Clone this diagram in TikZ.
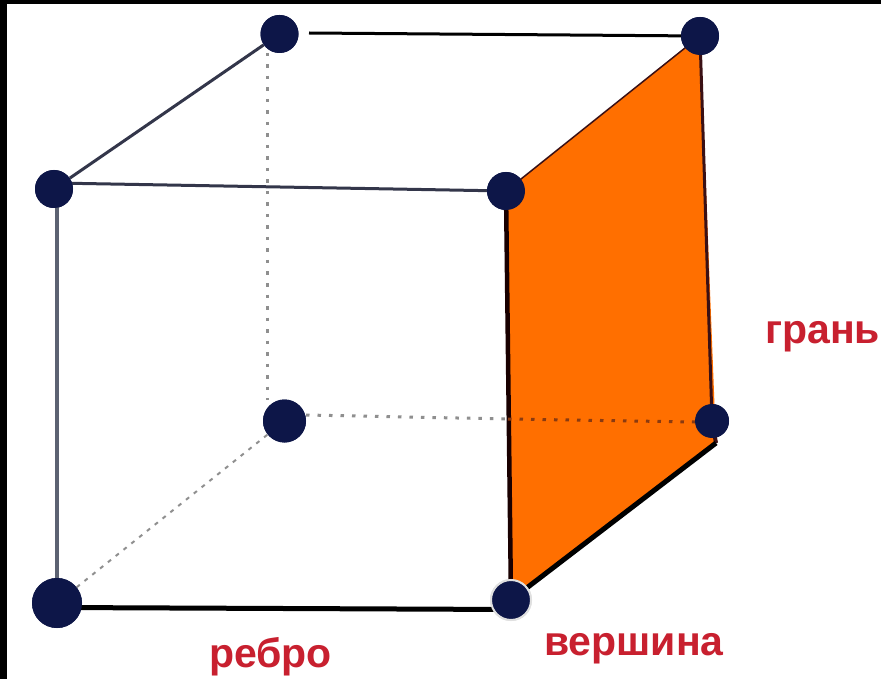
\documentclass[tikz,border=0pt]{standalone}
\usepackage{fontspec}
\setmainfont{Liberation Sans}
\definecolor{vertexc}{HTML}{0D1648}
\definecolor{facec}{HTML}{FF6F00}
\definecolor{labelc}{HTML}{C8202F}
\definecolor{edgeg}{HTML}{33364A}
\definecolor{edgel}{HTML}{5C6272}
\definecolor{dashg}{HTML}{8F8F8F}
\definecolor{dasho}{HTML}{8A3A10}
\definecolor{faceb}{HTML}{3A1015}
\tikzset{x=1pt,y=-1pt,
  vertex/.style={circle,fill=vertexc,draw=none,inner sep=0pt,minimum size=#1},
  vertex/.default=40pt,
  hidden/.style={line width=3pt,draw=dashg,dash pattern=on 3.5pt off 8pt},
  hiddenthin/.style={line width=2pt,draw=dashg,dash pattern=on 4pt off 6pt},
  lbl/.style={font=\bfseries\fontsize{41pt}{44pt}\selectfont,text=labelc,inner sep=0pt,anchor=base west}
}
\begin{document}
\begin{tikzpicture}
\useasboundingbox (0,0) rectangle (881,679);
\fill[white] (0,0) rectangle (881,679);
\fill[black] (0,0) rectangle (881,4);
\fill[black] (0,0) rectangle (7,679);
% vertex nodes
\node[vertex=50pt] (a) at (57,603) {};
\node[vertex=40pt,draw=black!12,line width=2pt] (b) at (511,600) {};
\node[vertex=34pt] (c) at (712,421) {};
\node[vertex=43pt] (d) at (284.5,421) {};
\node[vertex=38pt] (e) at (54,189) {};
\node[vertex=38pt] (f) at (506,191) {};
\node[vertex=38pt] (g) at (700,36) {};
\node[vertex=38pt] (h) at (279.5,34) {};
\coordinate (fbl) at (716,443);
\coordinate (hd1) at (267,53);
\coordinate (hd2) at (267,400);
\coordinate (dc1) at (306,415);
\coordinate (dc2) at (508,419);
\coordinate (dc3) at (695,422);
% face
\fill[facec] (f.center) -- (g.center) -- (fbl) -- (b.center) -- cycle;
\draw[line width=1.5pt,faceb] (f.center) -- (g.center);
\draw[line width=3pt,faceb] (g.center) -- (c.center);
\draw[line width=4pt,faceb] (c.center) -- (fbl);
\draw[line width=4.5pt,black!90!red] (f.center) -- (b.center);
\draw[line width=5pt,black] (fbl) -- (b.center);
% hidden edges
\draw[hidden] (hd1) -- (hd2);
\draw[hiddenthin] (a) -- (d);
\draw[hidden] (dc1) -- (dc2);
\draw[hidden,draw=dasho] (dc2) -- (dc3);
% visible edges
\draw[line width=3.5pt,edgel] (a) -- ([xshift=3pt]e.center);
\draw[line width=3pt,edgeg] ([yshift=6pt]e.center) -- (f.center);
\draw[line width=3pt,edgeg] (e) -- (h);
\draw[line width=3pt,black] (309,33) -- (g.center);
\draw[line width=5pt,black] ([yshift=-4.5pt]a.center) -- ([yshift=-9.5pt]b.center);
% redraw vertices on top
\node[vertex=50pt] at (a.center) {};
\node[vertex=40pt,draw=black!12,line width=2pt] at (b.center) {};
\node[vertex=34pt] at (c.center) {};
\node[vertex=43pt] at (d.center) {};
\node[vertex=38pt] at (e.center) {};
\node[vertex=38pt] at (f.center) {};
\node[vertex=38pt] at (g.center) {};
\node[vertex=38pt] at (h.center) {};
\node[lbl] (t1) at (765,343) {грань};
\node[lbl] (t2) at (209,667) {ребро};
\node[lbl] (t3) at (544,655) {вершина};
\end{tikzpicture}
\end{document}
